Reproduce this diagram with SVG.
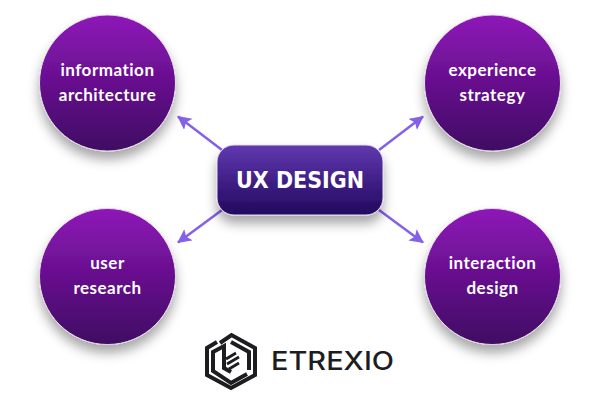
<svg xmlns="http://www.w3.org/2000/svg" width="600" height="400" viewBox="0 0 600 400">
<style>
.c{fill:url(#cg);stroke:#e6dcea;stroke-width:1;filter:url(#sh)}
.t{font-family:"Lato","Open Sans",sans-serif;font-size:17px;font-weight:700;fill:#fff;text-anchor:middle;letter-spacing:.5px}
.a{stroke:#8560e8;stroke-width:2.500;fill:none;marker-end:url(#ah)}
</style>
<defs>
<linearGradient id="cg" x1="0" y1="0" x2="0" y2="1"><stop offset="0" stop-color="#8e16b8"/><stop offset="1" stop-color="#3f0a62"/></linearGradient>
<linearGradient id="bg" x1="0" y1="0" x2="0" y2="1"><stop offset="0" stop-color="#6039b0"/><stop offset="1" stop-color="#22085f"/></linearGradient>
<filter id="sh" x="-30%" y="-30%" width="160%" height="170%"><feDropShadow dx="0" dy="8" stdDeviation="6" flood-color="#000" flood-opacity=".35"/></filter>
<marker id="ah" markerUnits="userSpaceOnUse" markerWidth="16" markerHeight="16" refX="13" refY="7" orient="auto"><path d="M0 0L14 7L0 14L3 7Z" fill="#8560e8"/></marker>
</defs>
<rect width="600" height="400" fill="#fff"/>
<g id="connectors">
<line class="a" x1="222" y1="150" x2="178" y2="116.500"/>
<line class="a" x1="379" y1="150" x2="423" y2="116.500"/>
<line class="a" x1="222" y1="210" x2="178" y2="242.500"/>
<line class="a" x1="379" y1="210" x2="423" y2="242.500"/>
</g>
<g id="node-ia"><circle class="c" cx="107.500" cy="83" r="68"/><text class="t" x="107.500" y="76">information</text><text class="t" x="107.500" y="101">architecture</text></g>
<g id="node-es"><circle class="c" cx="492.500" cy="83" r="68"/><text class="t" x="492.500" y="76">experience</text><text class="t" x="492.500" y="101">strategy</text></g>
<g id="node-ur"><circle class="c" cx="107.500" cy="276.500" r="68"/><text class="t" x="107.500" y="269">user</text><text class="t" x="107.500" y="294">research</text></g>
<g id="node-id"><circle class="c" cx="492.500" cy="276.500" r="68"/><text class="t" x="492.500" y="269">interaction</text><text class="t" x="492.500" y="294">design</text></g>
<g id="node-ux"><rect x="217" y="145" width="166" height="70" rx="17" fill="url(#bg)" stroke="#e6dcf0" stroke-width="1" filter="url(#sh)"/><text x="236" y="187.500" font-family="'DejaVu Sans','Open Sans',sans-serif" font-size="23" font-weight="700" fill="#fff" textLength="128" lengthAdjust="spacingAndGlyphs">UX DESIGN</text></g>
<g id="logo" fill="none" stroke="#1d1d1f" stroke-width="4">
<path d="M220 343L231.500 335L255 348V375L231 388L207 375V348L217 342"/>
<path d="M231 342L249 352V370"/>
<path d="M247 374L231 383L213 371V352L224 346V368L231 372"/>
<g stroke-width="2.800"><path d="M226 359L236 353M227 364L239 357M229 369L239 363"/></g>
</g>
<text id="brand" x="271" y="370" font-family="Inter,'Open Sans',sans-serif" font-size="25" fill="#1d1d1f" font-weight="500" textLength="123" lengthAdjust="spacingAndGlyphs">ETREXIO</text>
</svg>
